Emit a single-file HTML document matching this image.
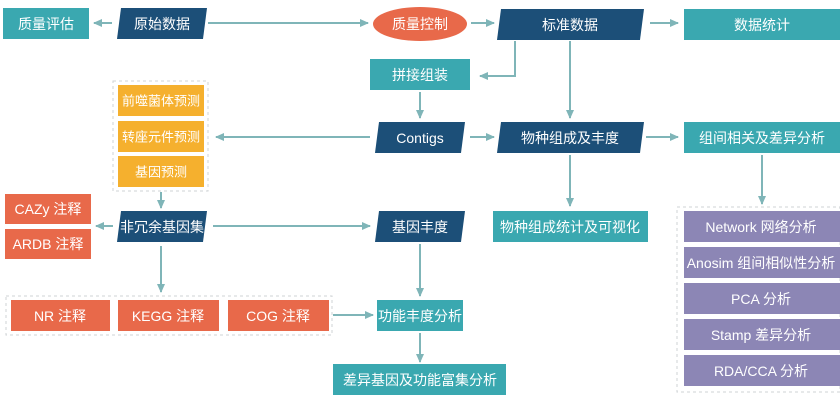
<!DOCTYPE html>
<html><head><meta charset="utf-8"><style>
html,body{margin:0;padding:0;background:#fff;}
svg{display:block;}
text{font-family:"Liberation Sans","Noto Sans CJK SC",sans-serif;font-size:14px;fill:#fff;text-anchor:middle;dominant-baseline:central;}
</style></head><body>
<svg width="840" height="406" viewBox="0 0 840 406" xmlns="http://www.w3.org/2000/svg">
<defs>
<marker id="a" markerWidth="10" markerHeight="10" refX="8" refY="5" orient="auto" markerUnits="userSpaceOnUse">
<path d="M0,1 L9,5 L0,9 Z" fill="#7fb5b8"/></marker>
</defs>
<g stroke="#7fb5b8" stroke-width="2" fill="none" marker-end="url(#a)">
<line x1="112" y1="23" x2="94" y2="23"/>
<line x1="208" y1="23" x2="368" y2="23"/>
<line x1="471" y1="23" x2="494" y2="23"/>
<line x1="650" y1="23" x2="678" y2="23"/>
<polyline points="515,41 515,76 480,76"/>
<line x1="420" y1="92" x2="420" y2="118"/>
<line x1="370" y1="137" x2="216" y2="137"/>
<line x1="470" y1="137" x2="494" y2="137"/>
<line x1="570" y1="41" x2="570" y2="118"/>
<line x1="646" y1="137" x2="678" y2="137"/>
<line x1="570" y1="155" x2="570" y2="206"/>
<line x1="762" y1="155" x2="762" y2="204"/>
<line x1="161" y1="192" x2="161" y2="208"/>
<line x1="113" y1="226" x2="96" y2="226"/>
<line x1="213" y1="226" x2="370" y2="226"/>
<line x1="420" y1="244" x2="420" y2="296"/>
<line x1="161" y1="246" x2="161" y2="292"/>
<line x1="333" y1="315" x2="373" y2="315"/>
<line x1="420" y1="333" x2="420" y2="362"/>
</g>
<g fill="none" stroke="#cfd3d6" stroke-width="1" stroke-dasharray="3,3">
<rect x="113" y="81" width="95" height="110"/>
<rect x="677" y="207" width="163" height="185"/>
<rect x="6" y="296" width="326" height="39"/>
</g>
<g fill="#3aa8b0">
<rect x="3" y="8" width="86" height="31"/>
<rect x="684" y="9" width="156" height="31"/>
<rect x="370" y="59" width="100" height="31"/>
<rect x="684" y="122" width="156" height="31"/>
<rect x="493" y="211" width="155" height="31"/>
<rect x="377" y="300" width="86" height="31"/>
<rect x="333" y="364" width="173" height="31"/>
</g>
<g fill="#1c4f78">
<polygon points="121,8 207,8 203,39 117,39"/>
<polygon points="501,9 644,9 640,40 497,40"/>
<polygon points="379,122 465,122 461,153 375,153"/>
<polygon points="501,122 644,122 640,153 497,153"/>
<polygon points="121,211 207,211 203,242 117,242"/>
<polygon points="379,211 465,211 461,242 375,242"/>
</g>
<ellipse cx="420" cy="24" rx="47" ry="17" fill="#e8694a"/>
<g fill="#f5b02e">
<rect x="118" y="85" width="86" height="31"/>
<rect x="118" y="121" width="86" height="31"/>
<rect x="118" y="156" width="86" height="31"/>
</g>
<g fill="#e8694a">
<rect x="5" y="194" width="86" height="30"/>
<rect x="5" y="229" width="86" height="30"/>
<rect x="11" y="300" width="99" height="31"/>
<rect x="118" y="300" width="101" height="31"/>
<rect x="228" y="300" width="101" height="31"/>
</g>
<g fill="#8c86b5">
<rect x="684" y="211" width="156" height="31"/>
<rect x="684" y="247" width="156" height="31"/>
<rect x="684" y="283" width="156" height="31"/>
<rect x="684" y="319" width="156" height="31"/>
<rect x="684" y="355" width="156" height="31"/>
</g>
<text x="46" y="24">质量评估</text>
<text x="162" y="24">原始数据</text>
<text x="420" y="24">质量控制</text>
<text x="570" y="25">标准数据</text>
<text x="762" y="25">数据统计</text>
<text x="420" y="75">拼接组装</text>
<text x="420" y="138">Contigs</text>
<text x="570" y="138">物种组成及丰度</text>
<text x="762" y="138">组间相关及差异分析</text>
<text x="161" y="101" style="font-size:13px">前噬菌体预测</text>
<text x="161" y="137" style="font-size:13px">转座元件预测</text>
<text x="161" y="172" style="font-size:13px">基因预测</text>
<text x="48" y="209">CAZy 注释</text>
<text x="48" y="244">ARDB 注释</text>
<text x="162" y="227">非冗余基因集</text>
<text x="420" y="227">基因丰度</text>
<text x="570" y="227">物种组成统计及可视化</text>
<text x="60" y="316">NR 注释</text>
<text x="168" y="316">KEGG 注释</text>
<text x="278" y="316">COG 注释</text>
<text x="420" y="316">功能丰度分析</text>
<text x="420" y="380">差异基因及功能富集分析</text>
<text x="761" y="227">Network 网络分析</text>
<text x="761" y="263">Anosim 组间相似性分析</text>
<text x="761" y="299">PCA 分析</text>
<text x="761" y="335">Stamp 差异分析</text>
<text x="761" y="371">RDA/CCA 分析</text>
</svg>
</body></html>
